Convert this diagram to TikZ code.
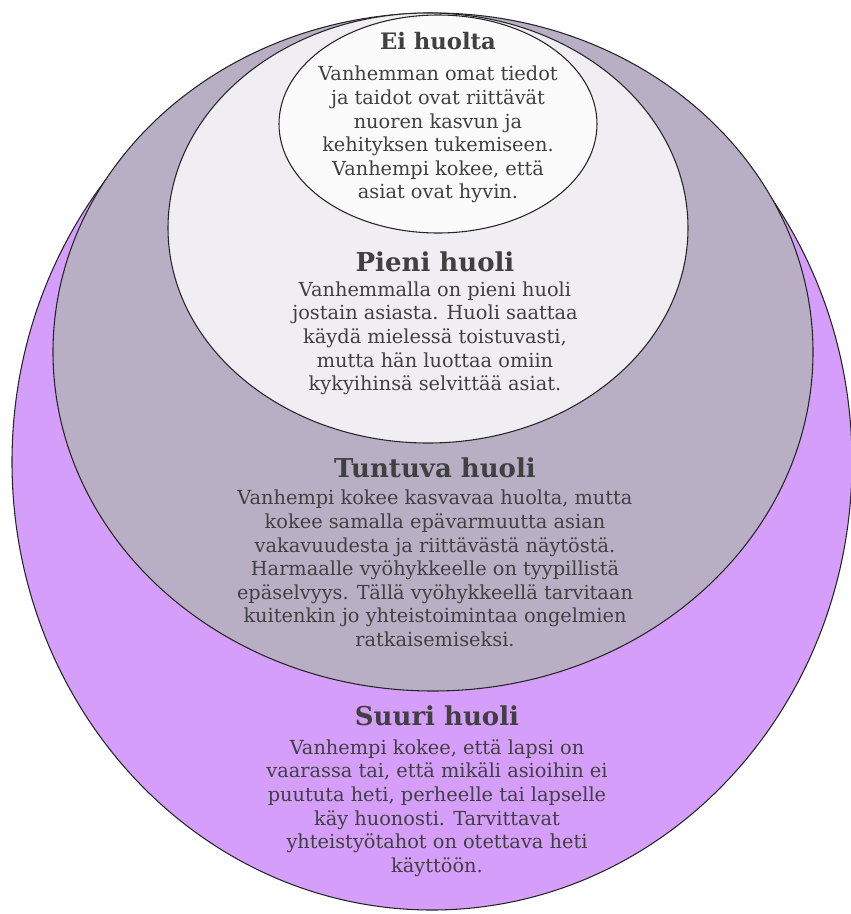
\documentclass[tikz,border=0pt]{standalone}
\usepackage{fontspec}
\setmainfont{DejaVu Serif}
\usetikzlibrary{positioning}
\definecolor{suuricol}{HTML}{D59EFA}
\definecolor{tuntuvacol}{HTML}{B9AFC5}
\definecolor{pienicol}{HTML}{F0EEF3}
\definecolor{eicol}{HTML}{FBFBFB}
\definecolor{textgray}{HTML}{404040}

\begin{document}
\begin{tikzpicture}[x=0.75pt,y=-0.75pt,
    zone/.style={draw=black!85, line width=0.8pt},
    heading/.style={font=\fontsize{19.5}{22}\bfseries\selectfont, text=textgray, inner sep=0pt, text height=14pt, text depth=4pt},
    bodytext/.style={font=\fontsize{14.5}{17.7}\selectfont, text=textgray, align=center, inner sep=0pt},]
						\useasboundingbox (0,0) rectangle (850,914);
						\filldraw[zone, fill=suuricol] (432,462) ellipse [x radius=420, y radius=448];
						\filldraw[zone, fill=tuntuvacol] (433,352) ellipse [x radius=380, y radius=339];
						\filldraw[zone, fill=pienicol] (428,228) ellipse [x radius=260, y radius=215];
						\filldraw[zone, fill=eicol] (438,124) ellipse [x radius=159, y radius=109];

						\node[heading, font=\fontsize{17}{20}\bfseries\selectfont](eititle) at (438,43){Ei huolta};
						\node[bodytext](eibody)[below=8pt of eititle]{Vanhemman omat tiedot\\ja taidot ovat riittävät\\nuoren kasvun ja\\kehityksen tukemiseen.\\Vanhempi kokee, että\\asiat ovat hyvin.};

						\node[heading](pienititle) at (435,265){Pieni huoli};
						\node[bodytext](pienibody)[below=3pt of pienititle]{Vanhemmalla on pieni huoli\\jostain asiasta. Huoli saattaa\\käydä mielessä toistuvasti,\\mutta hän luottaa omiin\\kykyihinsä selvittää asiat.};

						\node[heading](tuntuvatitle) at (435,471){Tuntuva huoli};
						\node[bodytext](tuntuvabody)[below=5pt of tuntuvatitle]{Vanhempi kokee kasvavaa huolta, mutta\\kokee samalla epävarmuutta asian\\vakavuudesta ja riittävästä näytöstä.\\Harmaalle vyöhykkeelle on tyypillistä\\epäselvyys. Tällä vyöhykkeellä tarvitaan\\kuitenkin jo yhteistoimintaa ongelmien\\ratkaisemiseksi.};

						\node[heading](suurititle) at (437,719){Suuri huoli};
						\node[bodytext](suuribody)[below=6pt of suurititle]{Vanhempi kokee, että lapsi on\\vaarassa tai, että mikäli asioihin ei\\puututa heti, perheelle tai lapselle\\käy huonosti. Tarvittavat\\yhteistyötahot on otettava heti\\käyttöön.};
				\end{tikzpicture}
\end{document}
